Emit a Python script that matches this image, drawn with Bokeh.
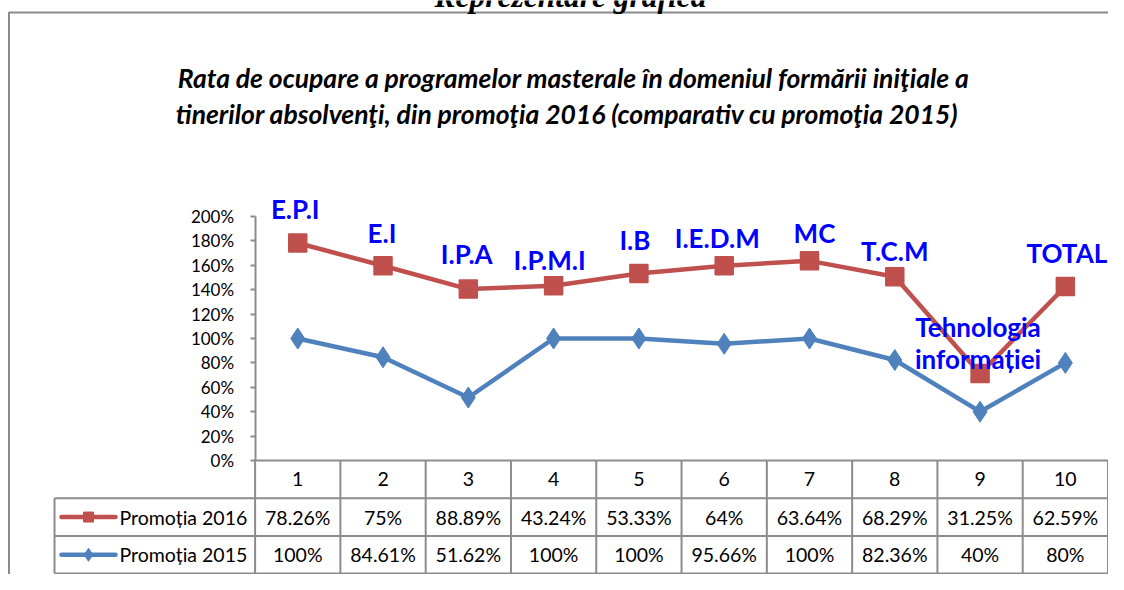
import numpy as np
from bokeh.plotting import figure
from bokeh.models import Range1d, LinearAxis, FixedTicker, NumeralTickFormatter
from bokeh.core.properties import value
from bokeh.embed import file_html
from bokeh.resources import INLINE

# ---------------- data ----------------
categories = ["1", "2", "3", "4", "5", "6", "7", "8", "9", "10"]
point_labels = ["E.P.I", "E.I", "I.P.A", "I.P.M.I", "I.B", "I.E.D.M", "MC", "T.C.M",
                "Tehnologia\ninformației", "TOTAL"]
promotia_2016 = [78.26, 75, 88.89, 43.24, 53.33, 64, 63.64, 68.29, 31.25, 62.59]
promotia_2015 = [100, 84.61, 51.62, 100, 100, 95.66, 100, 82.36, 40, 80]
table_2016 = ["78.26%", "75%", "88.89%", "43.24%", "53.33%", "64%", "63.64%", "68.29%", "31.25%", "62.59%"]
table_2015 = ["100%", "84.61%", "51.62%", "100%", "100%", "95.66%", "100%", "82.36%", "40%", "80%"]
series_names = ["Promoția 2016", "Promoția 2015"]
y_ticks = [0, 0.2, 0.4, 0.6, 0.8, 1.0, 1.2, 1.4, 1.6, 1.8, 2.0]
title_lines = ["Rata de ocupare a programelor masterale în domeniul formării iniţiale a",
               "tinerilor absolvenţi, din promoţia 2016 (comparativ cu promoţia  2015)"]
page_heading = "Reprezentare grafică"

# label pixel offsets (placement only)
label_dx = [-2.5, -1, -1.6, -4, -4, -7, 5, 0, -2, 1.5]
label_dy = [-34, -33, -35.5, -26, -33, -28, -27.5, -26, -31, -34]

RED = "#C0504D"
BLUE = "#4F81BD"
GRID = "#8c8c8c"
FONT = "Lato"

# ---------------- layout ----------------
W, H = 1108, 574
PXX = 85.29          # px per category
PXY = 122.0          # px per 100%
AX_X = 254.6         # x of the value axis
ZERO_Y = 460.0       # y (from top) of 0%
X0 = 0.5 - AX_X / PXX
X1 = X0 + W / PXX
Y0 = -(H - ZERO_Y) / PXY
Y1 = Y0 + H / PXY

def fx(px):
    return X0 + px / PXX

def fy(py):
    return Y1 - py / PXY

xs = np.arange(1, len(categories) + 1)
v2015 = np.array(promotia_2015) / 100.0
v2016 = v2015 + np.array(promotia_2016) / 100.0   # stacked line

p = figure(width=W, height=H, x_range=Range1d(X0, X1), y_range=Range1d(Y0, Y1),
           output_backend="svg", toolbar_location=None, x_axis_type=None, y_axis_type=None,
           min_border=0, outline_line_color=None)
p.background_fill_color = "white"
p.border_fill_color = "white"

# outer chart border (top + left)
p.line([fx(8.5), fx(8.5), fx(W + 5)], [fy(H + 5), fy(12), fy(12)], line_color="#8a8a8a", line_width=2)

# page heading (cut at top as in the source page)
p.text([fx(570)], [fy(-4)], text=[page_heading], text_font=value("Liberation Serif"),
       text_font_style="bold italic", text_font_size="31.5px", text_align="center",
       text_baseline="alphabetic", text_color="black")

# title
p.text([fx(573), fx(569.5)], [fy(77), fy(113)], text=title_lines, text_font=value(FONT),
       text_font_style="bold italic", text_font_size="26.5px", text_align="center",
       text_baseline="middle", text_color="black")

# value axis at category boundary 0.5
yaxis = LinearAxis(fixed_location=0.5, bounds=(0, 2.0), ticker=FixedTicker(ticks=y_ticks),
                   formatter=NumeralTickFormatter(format="0%"))
yaxis.axis_line_color = GRID
yaxis.axis_line_width = 2
yaxis.major_tick_line_color = GRID
yaxis.major_tick_line_width = 2
yaxis.major_tick_out = 5
yaxis.major_tick_in = 0
yaxis.minor_tick_line_color = None
yaxis.major_label_text_font = FONT
yaxis.major_label_text_font_size = "17px"
yaxis.major_label_text_color = "black"
yaxis.major_label_standoff = 16
p.add_layout(yaxis, "left")

# data table grid
n = len(categories)
row_h = 37.7 / PXY
r1 = -row_h
r2 = -2 * row_h
r3 = -3 * row_h
leg_left = fx(54)
p.segment(x0=[0.5], y0=[0], x1=[n + 0.5], y1=[0], line_color=GRID, line_width=2)
p.segment(x0=list(np.arange(n + 1) + 0.5), y0=[0] * (n + 1),
          x1=list(np.arange(n + 1) + 0.5), y1=[r3] * (n + 1), line_color=GRID, line_width=2)
p.segment(x0=[leg_left] * 3, y0=[r1, r2, r3], x1=[n + 0.5] * 3, y1=[r1, r2, r3],
          line_color=GRID, line_width=2)
p.segment(x0=[leg_left], y0=[r1], x1=[leg_left], y1=[r3], line_color=GRID, line_width=2)

cell_font = dict(text_font=value(FONT), text_font_size="19.5px", text_align="center",
                 text_baseline="middle", text_color="black")
p.text(list(xs), [r1 / 2] * n, text=categories, **cell_font)
p.text(list(xs), [(r1 + r2) / 2] * n, text=table_2016, **cell_font)
p.text(list(xs), [(r2 + r3) / 2] * n, text=table_2015, **cell_font)

# legend keys inside the table
key_x0, key_x1, key_xm = fx(61), fx(115), fx(88)
for yy, col, nm, mk, sz in [((r1 + r2) / 2, RED, series_names[0], "square", 10),
                            ((r2 + r3) / 2, BLUE, series_names[1], "diamond", 13)]:
    p.line([key_x0, key_x1], [yy, yy], line_color=col, line_width=4.5, line_cap="round")
    p.scatter([key_xm], [yy], marker=mk, size=sz, fill_color=col, line_color=col)
    p.text([fx(119)], [yy], text=[nm], text_font=value(FONT), text_font_size="19.5px",
           text_align="left", text_baseline="middle", text_color="black")

# series
p.line(xs, v2015, line_color=BLUE, line_width=4.5, line_join="round")
p.scatter(xs, v2015, marker="diamond", size=21, fill_color=BLUE, line_color=BLUE)
p.line(xs, v2016, line_color=RED, line_width=4.5, line_join="round")
p.scatter(xs, v2016, marker="square", size=18, fill_color=RED, line_color=RED, line_width=1.5)

# data labels
p.text(list(xs), list(v2016), text=point_labels, x_offset=label_dx, y_offset=label_dy,
       text_font=value(FONT), text_font_style="bold", text_font_size="26px",
       text_align="center", text_baseline="middle", text_color="#0000FF",
       text_line_height=1.0)

open("out.html", "w").write(file_html(p, INLINE))
